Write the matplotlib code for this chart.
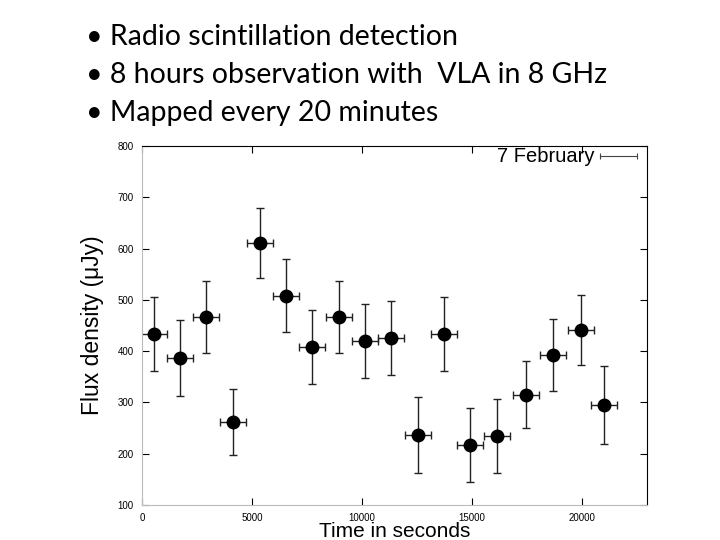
import matplotlib
matplotlib.use("Agg")
import matplotlib.pyplot as plt

time_s = [550, 1730, 2910, 4140, 5360, 6550, 7730, 8950, 10140, 11320, 12550, 13730, 14910, 16140, 17450, 18680, 19950, 21000]
flux = [434, 387, 467, 262, 611, 508, 408, 467, 420, 426, 237, 434, 217, 235, 315, 393, 441, 295]
flux_err = [72, 74, 70, 64, 68, 71, 72, 70, 72, 72, 74, 72, 73, 72, 65, 70, 68, 76]
time_err = [580, 580, 580, 580, 580, 580, 580, 580, 580, 580, 580, 580, 580, 580, 580, 580, 580, 580]
bullets = ["\u2022 Radio scintillation detection",
           "\u2022 8 hours observation with  VLA in 8 GHz",
           "\u2022 Mapped every 20 minutes"]

fig = plt.figure(figsize=(7.2, 5.4), dpi=100)
for i, t in enumerate(bullets):
    fig.text(86/720, 1 - (37 + 38*i)/540, t, fontsize=20.5, family="Lato", va="center", ha="left")

ax = fig.add_axes([142/720, 1-505/540, 505/720, 359/540])
ax.errorbar(time_s, flux, yerr=flux_err, xerr=time_err, fmt="o", color="black",
            ms=9, elinewidth=1.0, capsize=3, capthick=1.0, ecolor="#222222")
ax.set_xlim(0, 22950)
ax.set_ylim(100, 800)
ax.set_xticks([0, 5000, 10000, 15000, 20000])
ax.set_yticks([100, 200, 300, 400, 500, 600, 700, 800])
ax.tick_params(direction="in", top=True, right=True, labelsize=7, length=5, pad=6)
for lab in ax.get_xticklabels() + ax.get_yticklabels():
    lab.set_family("Liberation Sans")
for s in ["left", "bottom"]:
    ax.spines[s].set_color("#bbbbbb")
ax.set_xlabel("Time in seconds", fontsize=15, family="Liberation Sans", labelpad=-1)
ax.set_ylabel("Flux density (\u03bcJy)", fontsize=16.5, family="Liberation Sans", labelpad=10)

# legend-style key
ax.text(0.897, 0.970, "7 February", transform=ax.transAxes, fontsize=14.5,
        family="Liberation Sans", ha="right", va="center")
ax.plot([0.907, 0.980], [0.972, 0.972], transform=ax.transAxes, color="#444444", lw=0.8)
ax.plot([0.907, 0.980], [0.972, 0.972], transform=ax.transAxes, color="#444444",
        ls="none", marker="|", ms=5, mew=0.8)

fig.savefig("out.png", dpi=100)
